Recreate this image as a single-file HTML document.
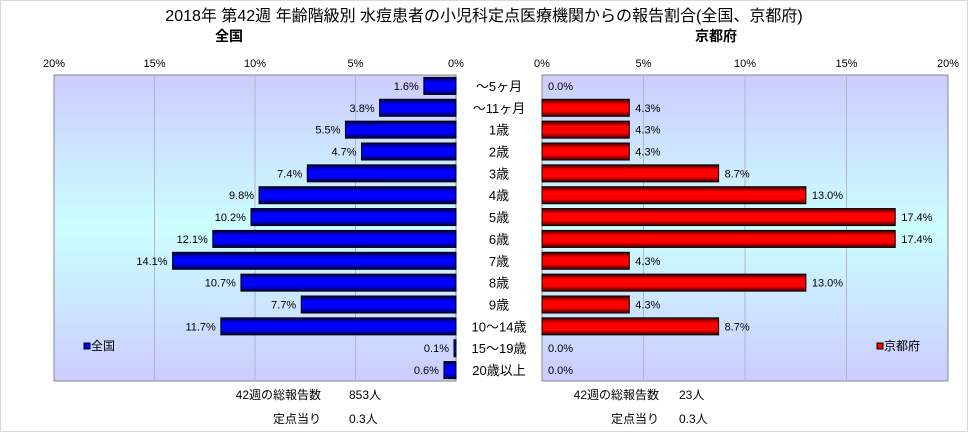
<!DOCTYPE html>
<html><head><meta charset="utf-8"><style>
body{margin:0;background:#fff;}
#wrap{position:relative;width:966px;height:430px;border:1px solid #d9d9d9;background:#fff;font-family:"Liberation Sans","Noto Sans CJK JP",sans-serif;overflow:hidden}
svg text{font-family:"Liberation Sans","Noto Sans CJK JP",sans-serif}
</style></head><body>
<div id="wrap">
<svg id="chart" width="966" height="430">
<defs>
<linearGradient id="bg" x1="0" y1="0" x2="0" y2="1">
<stop offset="0" stop-color="#ccccff"/><stop offset="0.5" stop-color="#ccffff"/><stop offset="1" stop-color="#ccccff"/></linearGradient>
<linearGradient id="gb" x1="0" y1="0" x2="0" y2="1">
<stop offset="0" stop-color="#000040"/><stop offset="0.3" stop-color="#0000ff"/><stop offset="0.7" stop-color="#0000ff"/><stop offset="1" stop-color="#000040"/></linearGradient>
<linearGradient id="gr" x1="0" y1="0" x2="0" y2="1">
<stop offset="0" stop-color="#400000"/><stop offset="0.3" stop-color="#ff0000"/><stop offset="0.7" stop-color="#ff0000"/><stop offset="1" stop-color="#400000"/></linearGradient>
</defs>
<text x="483" y="20" font-size="16" text-anchor="middle">2018年 第42週 年齢階級別 水痘患者の小児科定点医療機関からの報告割合(全国、京都府)</text>
<text x="228" y="40" font-size="14" font-weight="bold" text-anchor="middle">全国</text>
<text x="715" y="40" font-size="14" font-weight="bold" text-anchor="middle">京都府</text>
<g id="g"></g>
<text x="320" y="398" font-size="12" text-anchor="end">42週の総報告数</text>
<text x="348" y="398" font-size="12">853人</text>
<text x="320" y="422" font-size="12" text-anchor="end">定点当り</text>
<text x="348" y="422" font-size="12">0.3人</text>
<text x="658" y="398" font-size="12" text-anchor="end">42週の総報告数</text>
<text x="678" y="398" font-size="12">23人</text>
<text x="658" y="422" font-size="12" text-anchor="end">定点当り</text>
<text x="678" y="422" font-size="12">0.3人</text>
</svg>
</div>
<script>
const categories=["～5ヶ月","～11ヶ月","1歳","2歳","3歳","4歳","5歳","6歳","7歳","8歳","9歳","10～14歳","15～19歳","20歳以上"];
const nationalValues=[1.6,3.8,5.5,4.7,7.4,9.8,10.2,12.1,14.1,10.7,7.7,11.7,0.1,0.6];
const kyotoValues=[0.0,4.3,4.3,4.3,8.7,13.0,17.4,17.4,4.3,13.0,4.3,8.7,0.0,0.0];
const tickValues=[0,5,10,15,20];
const NS="http://www.w3.org/2000/svg";
const g=document.getElementById('g');
const top0=74,bot0=380,rowH=(bot0-top0)/categories.length,barH=17;
const L={x0:455,x1:53},R={x0:541,x1:947};
const lx=v=>L.x0-(L.x0-L.x1)*v/20, rx=v=>R.x0+(R.x1-R.x0)*v/20;
const yc=i=>top0+rowH*(i+0.5);
function el(t,a,txt){const e=document.createElementNS(NS,t);for(const k in a)e.setAttribute(k,a[k]);if(txt!=null)e.textContent=txt;g.appendChild(e);return e;}
let r=el('rect',{x:L.x1,y:top0,width:L.x0-L.x1,height:bot0-top0,fill:'url(#bg)',stroke:'#888'});

r=el('rect',{x:R.x0,y:top0,width:R.x1-R.x0,height:bot0-top0,fill:'url(#bg)',stroke:'#888'});

tickValues.forEach(t=>{
 if(t>0&&t<20){let a=el('line',{x1:lx(t),x2:lx(t),y1:top0,y2:bot0,stroke:'#b0b4cc'});
 
 a=el('line',{x1:rx(t),x2:rx(t),y1:top0,y2:bot0,stroke:'#b0b4cc'});
 }
 let a=el('text',{x:lx(t),y:66,'font-size':11,'text-anchor':'middle'},t+'%');
 
 a=el('text',{x:rx(t),y:66,'font-size':11,'text-anchor':'middle'},t+'%');
 
});
categories.forEach((c,i)=>{
 const y=yc(i);
 let t=el('text',{x:498,y:y+5,'font-size':13,'text-anchor':'middle'},c);
 
 const v=nationalValues[i];
 let b=el('rect',{x:lx(v),y:y-barH/2,width:L.x0-lx(v),height:barH,fill:'url(#gb)',stroke:'#000','stroke-width':1});
 
 t=el('text',{x:lx(v)-5,y:y+4,'font-size':11,'text-anchor':'end'},v.toFixed(1)+'%');
 
 const k=kyotoValues[i];
 if(k>0){b=el('rect',{x:R.x0,y:y-barH/2,width:rx(k)-R.x0,height:barH,fill:'url(#gr)',stroke:'#000','stroke-width':1});
 }
 t=el('text',{x:k>0?rx(k)+6:R.x0+6,y:y+4,'font-size':11},k.toFixed(1)+'%');
 
});
let m=el('rect',{x:83,y:342,width:6,height:6,fill:'#0000ff',stroke:'#000'});

m=el('text',{x:90,y:349,'font-size':12},'全国');

m=el('rect',{x:876,y:342,width:6,height:6,fill:'#ff0000',stroke:'#000'});

m=el('text',{x:883,y:349,'font-size':12},'京都府');

</script>
</body></html>
